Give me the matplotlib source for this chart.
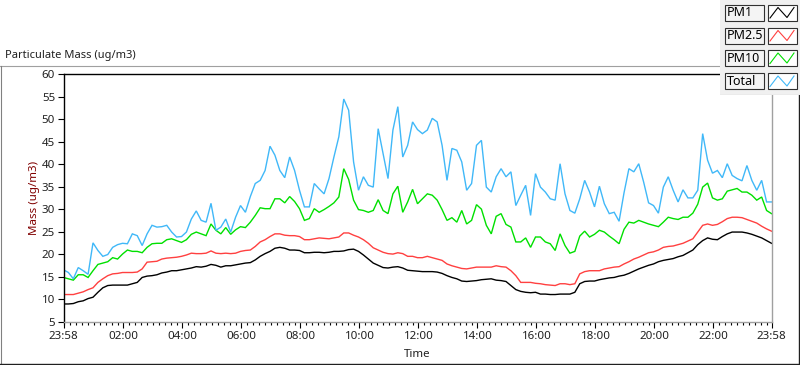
import numpy as np
import matplotlib
matplotlib.use("Agg")
import matplotlib.pyplot as plt
from matplotlib.patches import Rectangle
from matplotlib.lines import Line2D

plt.rcParams['font.family'] = ['Noto Sans', 'DejaVu Sans']

# ---------------- data (minutes since 23:58, 10-minute samples) ----------------
minutes = np.arange(0, 1441, 10)

pm1 = [8.9, 8.9, 9.0, 9.4, 9.6, 10.1, 10.4, 11.5, 12.5, 13.0, 13.1, 13.1, 13.1, 13.1, 13.4, 13.7,
       14.8, 15.1, 15.2, 15.4, 15.8, 16.0, 16.3, 16.3, 16.5, 16.7, 16.9, 17.2, 17.1, 17.3, 17.7, 17.5,
       17.1, 17.4, 17.4, 17.6, 17.8, 18.0, 18.1, 18.7, 19.5, 20.1, 20.6, 21.3, 21.5, 21.3, 20.9, 20.9,
       20.8, 20.3, 20.3, 20.4, 20.4, 20.3, 20.4, 20.6, 20.6, 20.7, 21.0, 21.1, 20.6, 19.8, 18.9, 18.0,
       17.5, 17.0, 16.9, 17.1, 17.2, 16.9, 16.4, 16.3, 16.2, 16.1, 16.1, 16.1, 16.0, 15.7, 15.2, 14.8,
       14.5, 14.0, 13.9, 14.0, 14.1, 14.3, 14.4, 14.5, 14.2, 14.1, 13.9, 13.0, 12.1, 11.7, 11.5, 11.4,
       11.5, 11.1, 11.1, 11.0, 11.0, 11.1, 11.1, 11.1, 11.5, 13.4, 13.9, 14.0, 14.0, 14.3, 14.5, 14.7,
       14.8, 15.1, 15.3, 15.7, 16.2, 16.7, 17.1, 17.5, 17.8, 18.3, 18.6, 18.8, 19.0, 19.4, 19.7, 20.3,
       20.9, 22.1, 23.0, 23.6, 23.3, 23.2, 23.9, 24.5, 24.9, 24.9, 24.9, 24.7, 24.4, 24.0, 23.6, 23.0,
       22.4]

pm25 = [11.0, 11.0, 11.0, 11.3, 11.6, 12.1, 12.5, 13.7, 14.5, 15.2, 15.6, 15.7, 15.9, 15.9, 15.9, 16.0,
        16.7, 18.2, 18.3, 18.4, 18.9, 19.1, 19.2, 19.3, 19.5, 19.8, 20.2, 20.1, 20.1, 20.2, 20.7, 20.2,
        20.1, 20.2, 20.1, 20.2, 20.6, 20.8, 20.9, 21.7, 22.7, 23.2, 23.9, 24.5, 24.5, 24.2, 24.1, 24.1,
        23.9, 23.2, 23.2, 23.4, 23.6, 23.5, 23.4, 23.6, 23.8, 24.7, 24.7, 24.2, 23.8, 23.2, 22.4, 21.4,
        20.9, 20.4, 20.1, 20.0, 20.3, 20.1, 19.5, 19.5, 19.2, 19.2, 19.5, 19.2, 18.9, 18.6, 17.8, 17.4,
        17.1, 16.8, 16.7, 16.9, 17.1, 17.1, 17.1, 17.1, 17.4, 17.2, 17.1, 16.3, 15.2, 13.7, 13.7, 13.7,
        13.5, 13.4, 13.2, 13.1, 13.0, 13.4, 13.4, 13.2, 13.4, 15.6, 16.1, 16.3, 16.3, 16.3, 16.7, 16.9,
        17.1, 17.2, 17.8, 18.3, 18.9, 19.3, 19.8, 20.3, 20.5, 20.9, 21.5, 21.7, 21.8, 22.1, 22.4, 22.9,
        23.4, 24.9, 26.4, 26.7, 26.4, 26.6, 27.2, 27.9, 28.2, 28.2, 28.1, 27.7, 27.3, 26.9, 26.2, 25.6,
        25.1]

pm10 = [14.8, 14.5, 14.2, 15.4, 15.4, 14.8, 16.3, 17.7, 18.0, 18.3, 19.2, 18.9, 20.0, 20.9, 20.6, 20.6,
        20.3, 21.5, 22.3, 22.4, 22.4, 23.2, 23.4, 23.0, 22.6, 23.2, 24.4, 24.9, 24.5, 24.1, 26.7, 25.3,
        24.5, 25.9, 24.4, 25.4, 26.1, 25.9, 27.1, 28.6, 30.3, 30.1, 30.1, 32.3, 32.3, 31.4, 32.8, 31.7,
        30.1, 27.5, 27.9, 30.1, 29.3, 29.9, 30.6, 31.4, 32.7, 39.0, 36.6, 32.0, 29.9, 29.7, 29.3, 29.7,
        32.1, 29.7, 29.0, 33.4, 35.1, 29.3, 31.6, 34.4, 31.2, 32.3, 33.4, 33.1, 32.0, 29.9, 27.5, 28.1,
        27.1, 29.7, 26.7, 27.5, 31.0, 30.0, 26.4, 24.5, 28.4, 29.0, 26.6, 26.0, 22.7, 22.7, 23.6, 21.5,
        23.8, 23.8, 22.7, 22.3, 20.8, 24.5, 21.9, 20.2, 20.6, 24.0, 25.1, 23.8, 24.4, 25.3, 24.9, 24.0,
        23.2, 22.3, 25.5, 27.1, 26.9, 27.5, 27.1, 26.7, 26.4, 26.1, 27.1, 28.2, 27.9, 27.7, 28.2, 28.2,
        29.1, 31.1, 34.9, 35.8, 32.5, 32.0, 32.3, 34.0, 34.3, 34.6, 33.8, 33.8, 33.1, 32.0, 32.7, 29.7,
        29.0]

total = [16.5, 15.9, 14.5, 17.0, 16.3, 15.5, 22.5, 20.8, 19.5, 19.9, 21.5, 22.1, 22.4, 22.3, 24.5, 24.1,
         21.9, 24.5, 26.4, 26.0, 26.1, 26.4, 24.9, 23.8, 23.9, 24.9, 27.8, 29.6, 27.5, 27.1, 31.3, 25.3,
         26.0, 27.8, 24.9, 28.2, 30.8, 29.3, 32.8, 35.7, 36.4, 38.6, 44.0, 42.0, 38.6, 37.0, 41.6, 38.6,
         34.2, 30.5, 30.5, 35.7, 34.5, 33.4, 36.8, 41.6, 46.1, 54.5, 52.0, 40.5, 34.2, 37.2, 35.3, 34.9,
         47.9, 42.4, 36.8, 47.6, 52.8, 41.6, 44.2, 49.4, 47.7, 46.8, 47.6, 50.2, 49.4, 44.2, 36.4, 43.5,
         43.1, 40.5, 34.2, 35.7, 44.2, 45.3, 34.9, 33.8, 37.2, 39.0, 37.2, 38.3, 30.8, 33.1, 35.3, 28.6,
         37.9, 34.9, 33.8, 32.3, 32.0, 40.1, 33.4, 29.7, 29.1, 32.3, 36.4, 33.8, 30.5, 35.1, 31.2, 29.0,
         29.3, 27.3, 33.6, 39.0, 38.3, 40.1, 36.0, 31.4, 30.8, 29.1, 34.9, 37.2, 34.2, 31.6, 34.3, 32.5,
         32.5, 34.2, 46.8, 40.9, 38.0, 38.6, 37.0, 40.1, 37.5, 36.8, 36.3, 39.7, 36.4, 34.2, 36.4, 31.6,
         31.6]

series_names = ["PM1", "PM2.5", "PM10", "Total"]
series_colors = ["#000000", "#ff4040", "#00e000", "#40b8f8"]

xtick_minutes = [0, 122, 242, 362, 482, 602, 722, 842, 962, 1082, 1202, 1322, 1440]
xtick_labels = ["23:58", "02:00", "04:00", "06:00", "08:00", "10:00", "12:00",
                "14:00", "16:00", "18:00", "20:00", "22:00", "23:58"]
yticks = [5, 10, 15, 20, 25, 30, 35, 40, 45, 50, 55, 60]

# ---------------- figure ----------------
W, H = 800, 365
fig = plt.figure(figsize=(W / 100, H / 100), dpi=100)
fig.patch.set_facecolor("white")

# overlay (pixel coordinates) for panel frame lines
ov = fig.add_axes([0, 0, 1, 1], zorder=0)
ov.set_xlim(0, W)
ov.set_ylim(H, 0)
ov.axis("off")
ov.plot([0, 722], [65.5, 65.5], color="#a0a0a0", lw=0.8)
ov.plot([1, 1], [65.5, 364], color="#808080", lw=0.8)
ov.plot([0, 800], [363.5, 363.5], color="#202020", lw=1.0)
ov.plot([799, 799], [95, 364], color="#202020", lw=1.0)
ov.text(5, 55.5, "Particulate Mass (ug/m3)", fontsize=8.0, color="#202020",
        ha="left", va="center")

# main plot area
x0, x1 = 63.5, 771.5
y0, y1 = 74.3, 321.5
ax = fig.add_axes([x0 / W, (H - y1) / H, (x1 - x0) / W, (y1 - y0) / H], zorder=1)
ax.set_facecolor("white")

data = [pm1, pm25, pm10, total]
for vals, c in zip(data, series_colors):
    ax.plot(minutes, vals, color=c, lw=1.0, solid_joinstyle="miter")

ax.set_xlim(0, 1440)
ax.set_ylim(5, 60)
ax.set_yticks(yticks)
ax.set_yticklabels([str(v) for v in yticks])
ax.set_xticks(xtick_minutes)
ax.set_xticklabels(xtick_labels)
ax.set_xticks(np.arange(2, 1440, 12), minor=True)

for side in ["top", "left"]:
    ax.spines[side].set_color("black")
    ax.spines[side].set_linewidth(1.0)
for side in ["bottom", "right"]:
    ax.spines[side].set_color("#a0a0a0")
    ax.spines[side].set_linewidth(1.0)

ax.tick_params(axis="y", which="major", direction="out", length=4, width=0.8,
               color="black", labelsize=8.3, labelcolor="#202020", pad=2)
ax.tick_params(axis="x", which="major", direction="out", length=4.5, width=0.8,
               color="black", labelsize=8.3, labelcolor="#202020", pad=2.5)
ax.tick_params(axis="x", which="minor", direction="out", length=2.5, width=0.8,
               color="black")

ax.set_xlabel("Time", fontsize=8.3, color="#202020", labelpad=5)
ax.set_ylabel("Mass (ug/m3)", fontsize=8.3, color="#800000", labelpad=1)

# ---------------- legend panel (pixel coordinates) ----------------
lg = fig.add_axes([720 / W, (H - 95) / H, 80 / W, 95 / H], zorder=3)
lg.set_xlim(720, 800)
lg.set_ylim(95, 0)
lg.axis("off")
lg.add_patch(Rectangle((720, 0), 80, 95, facecolor="#f0f0f0", edgecolor="none"))
lg.plot([720, 800], [94.5, 94.5], color="#a0a0a0", lw=0.8)
row_top = [4.5, 27.5, 50, 73]
for name, c, yt in zip(series_names, series_colors, row_top):
    lg.add_patch(Rectangle((725, yt), 39, 16, facecolor="#f4f4f4",
                           edgecolor="#303030", lw=0.8))
    lg.text(727, yt + 8.3, name, fontsize=9, color="#000000", ha="left", va="center")
    lg.add_patch(Rectangle((768, yt), 28.5, 16, facecolor="white",
                           edgecolor="#303030", lw=0.8))
    lg.add_line(Line2D([770, 778, 787, 794], [yt + 13.5, yt + 3, yt + 13, yt + 3],
                       color=c, lw=0.8))

fig.savefig("out.png", dpi=100, facecolor="white")
